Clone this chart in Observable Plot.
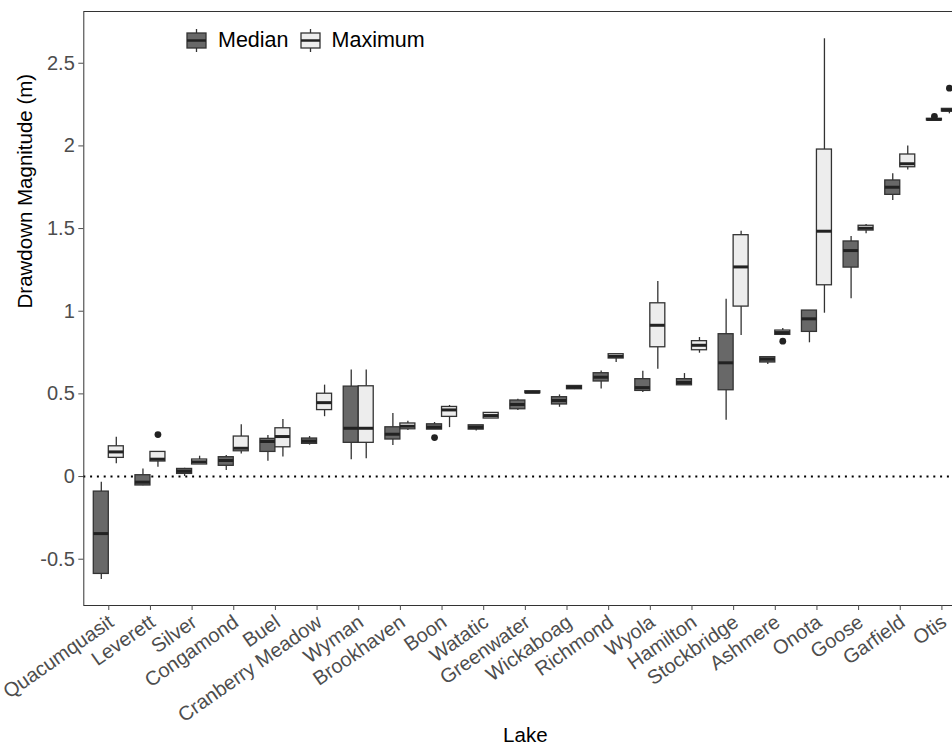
<!DOCTYPE html>
<html><head><meta charset="utf-8">
<script src="https://cdn.jsdelivr.net/npm/d3@7"></script>
<script src="https://cdn.jsdelivr.net/npm/@observablehq/plot@0.6"></script>
<style>
html,body{margin:0;padding:0;background:#fff;overflow:hidden;}
#wrap{position:relative;width:952px;height:744px;font-family:"Liberation Sans",Arial,sans-serif;overflow:hidden;}
#legend{position:absolute;left:186px;top:29px;display:flex;align-items:center;font-size:21.5px;color:#000;line-height:1;}
#legend .item{display:flex;align-items:center;margin-right:11px;}
#legend svg{margin-right:11px;display:block;}
</style></head>
<body><div id="wrap"><div id="chart"></div><div id="legend"></div></div>
<script>
const lakes = ["Quacumquasit","Leverett","Silver","Congamond","Buel","Cranberry Meadow","Wyman","Brookhaven","Boon","Watatic","Greenwater","Wickaboag","Richmond","Wyola","Hamilton","Stockbridge","Ashmere","Onota","Goose","Garfield","Otis"];
const groups = ["Median","Maximum"];
const groupFill = ["#686868","#ededed"];

// "Median" drawdown boxes (lower whisker, Q1, median, Q3, upper whisker)
const medLow  = [-0.623,-0.056,0.000,0.036,0.093,0.190,0.101,0.188,0.284,0.276,0.399,0.419,0.530,0.508,0.552,0.341,0.678,0.809,1.075,1.670,2.154];
const medQ1   = [-0.589,-0.054,0.016,0.065,0.149,0.198,0.204,0.224,0.284,0.284,0.407,0.436,0.575,0.518,0.552,0.522,0.690,0.875,1.264,1.704,2.154];
const medMid  = [-0.345,-0.034,0.032,0.097,0.212,0.214,0.292,0.256,0.298,0.298,0.436,0.460,0.601,0.538,0.569,0.688,0.710,0.954,1.367,1.750,2.160];
const medQ3   = [-0.091,0.008,0.046,0.117,0.228,0.230,0.544,0.298,0.316,0.310,0.460,0.480,0.625,0.589,0.589,0.861,0.722,1.004,1.422,1.791,2.164];
const medHigh = [-0.034,0.046,0.050,0.127,0.248,0.242,0.645,0.381,0.327,0.310,0.468,0.494,0.639,0.637,0.623,1.073,0.722,1.004,1.452,1.831,2.164];

// "Maximum" drawdown boxes
const maxLow  = [0.077,0.056,0.073,0.137,0.119,0.362,0.107,0.278,0.296,0.351,0.502,0.526,0.690,0.649,0.746,0.853,0.857,0.988,1.468,1.855,2.194];
const maxQ1   = [0.113,0.091,0.073,0.153,0.177,0.402,0.204,0.286,0.361,0.351,0.504,0.528,0.714,0.782,0.764,1.028,0.857,1.157,1.488,1.871,2.208];
const maxMid  = [0.149,0.105,0.089,0.171,0.242,0.447,0.292,0.304,0.403,0.369,0.510,0.540,0.727,0.915,0.794,1.268,0.871,1.484,1.502,1.892,2.216];
const maxQ3   = [0.183,0.149,0.103,0.242,0.292,0.501,0.546,0.321,0.421,0.385,0.516,0.548,0.740,1.048,0.819,1.460,0.883,1.978,1.517,1.948,2.224];
const maxHigh = [0.238,0.149,0.123,0.313,0.345,0.553,0.645,0.335,0.430,0.385,0.518,0.550,0.740,1.180,0.841,1.484,0.895,2.648,1.524,2.000,2.224];

// outliers
const outLake  = ["Leverett","Boon","Ashmere","Otis","Otis"];
const outGroup = ["Maximum","Median","Maximum","Median","Maximum"];
const outValue = [0.254,0.236,0.819,2.178,2.349];

const yTicks = [-0.5,0,0.5,1,1.5,2,2.5];

const rows = [];
lakes.forEach((lake,i)=>{
  rows.push({lake,i,group:"Median",low:medLow[i],q1:medQ1[i],mid:medMid[i],q3:medQ3[i],high:medHigh[i]});
  rows.push({lake,i,group:"Maximum",low:maxLow[i],q1:maxQ1[i],mid:maxMid[i],q3:maxQ3[i],high:maxHigh[i]});
});
const outliers = outLake.map((lake,k)=>({lake,i:lakes.indexOf(lake),group:outGroup[k],value:outValue[k]}));

const half = 0.36;
const bx1 = d => d.group === "Median" ? d.i - half : d.i;
const bx2 = d => d.group === "Median" ? d.i : d.i + half;
const bxc = d => (bx1(d) + bx2(d)) / 2;
const line = "#333333";

const chart = Plot.plot({
  width: 952, height: 744,
  marginLeft: 83.3, marginRight: -14.4, marginTop: 11, marginBottom: 139,
  x: {domain: [-0.6, lakes.length - 0.4], axis: null},
  y: {domain: [-0.78, 2.813], axis: null},
  color: {domain: groups, range: groupFill},
  style: {fontFamily: '"Liberation Sans", Arial, sans-serif', background: "white", color: "#000"},
  marks: [
    Plot.ruleY([0], {stroke: "#000", strokeWidth: 2, strokeDasharray: "2,4.8"}),
    Plot.ruleX(rows, {x: bxc, y1: "low", y2: "q1", stroke: line, strokeWidth: 1.3}),
    Plot.ruleX(rows, {x: bxc, y1: "q3", y2: "high", stroke: line, strokeWidth: 1.3}),
    Plot.rect(rows, {x1: bx1, x2: bx2, y1: "q1", y2: "q3", fill: "group", stroke: line, strokeWidth: 1.3}),
    Plot.ruleY(rows, {x1: bx1, x2: bx2, y: "mid", stroke: "#222", strokeWidth: 3}),
    Plot.dot(outliers, {x: bxc, y: "value", r: 3.4, fill: "#222", stroke: "none"}),
    Plot.frame({stroke: line, strokeWidth: 1}),
    Plot.axisY({ticks: yTicks, tickFormat: d => String(d), fontSize: 20, tickSize: 5, tickPadding: 4, color: "#4d4d4d", label: null}),
    Plot.axisX({ticks: d3.range(lakes.length), tickFormat: () => "", tickSize: 5, color: "#4d4d4d", label: null}),
    Plot.text(lakes, {x: (d, i) => i, frameAnchor: "bottom", text: d => d, rotate: -35, textAnchor: "end", lineAnchor: "top", dx: -2, dy: 8, fontSize: 20, fill: "#4d4d4d"}),
    Plot.text(["Lake"], {frameAnchor: "bottom", lineAnchor: "bottom", dy: 136, fontSize: 20.5, fill: "#000"}),
    Plot.text(["Drawdown Magnitude (m)"], {frameAnchor: "left", rotate: -90, dx: -58, fontSize: 20.5, fill: "#000"})
  ]
});
document.getElementById("chart").appendChild(chart);

const legend = d3.select("#legend");
groups.forEach((g,k)=>{
  const item = legend.append("div").attr("class","item");
  const s = item.append("svg").attr("width",21).attr("height",23);
  s.append("line").attr("x1",10.5).attr("x2",10.5).attr("y1",0).attr("y2",23).attr("stroke",line).attr("stroke-width",1.3);
  s.append("rect").attr("x",1).attr("y",4).attr("width",19).attr("height",15).attr("fill",groupFill[k]).attr("stroke",line).attr("stroke-width",1.3);
  s.append("line").attr("x1",1).attr("x2",20).attr("y1",11.5).attr("y2",11.5).attr("stroke","#222").attr("stroke-width",2.5);
  item.append("span").text(g);
});
</script>
</body></html>
